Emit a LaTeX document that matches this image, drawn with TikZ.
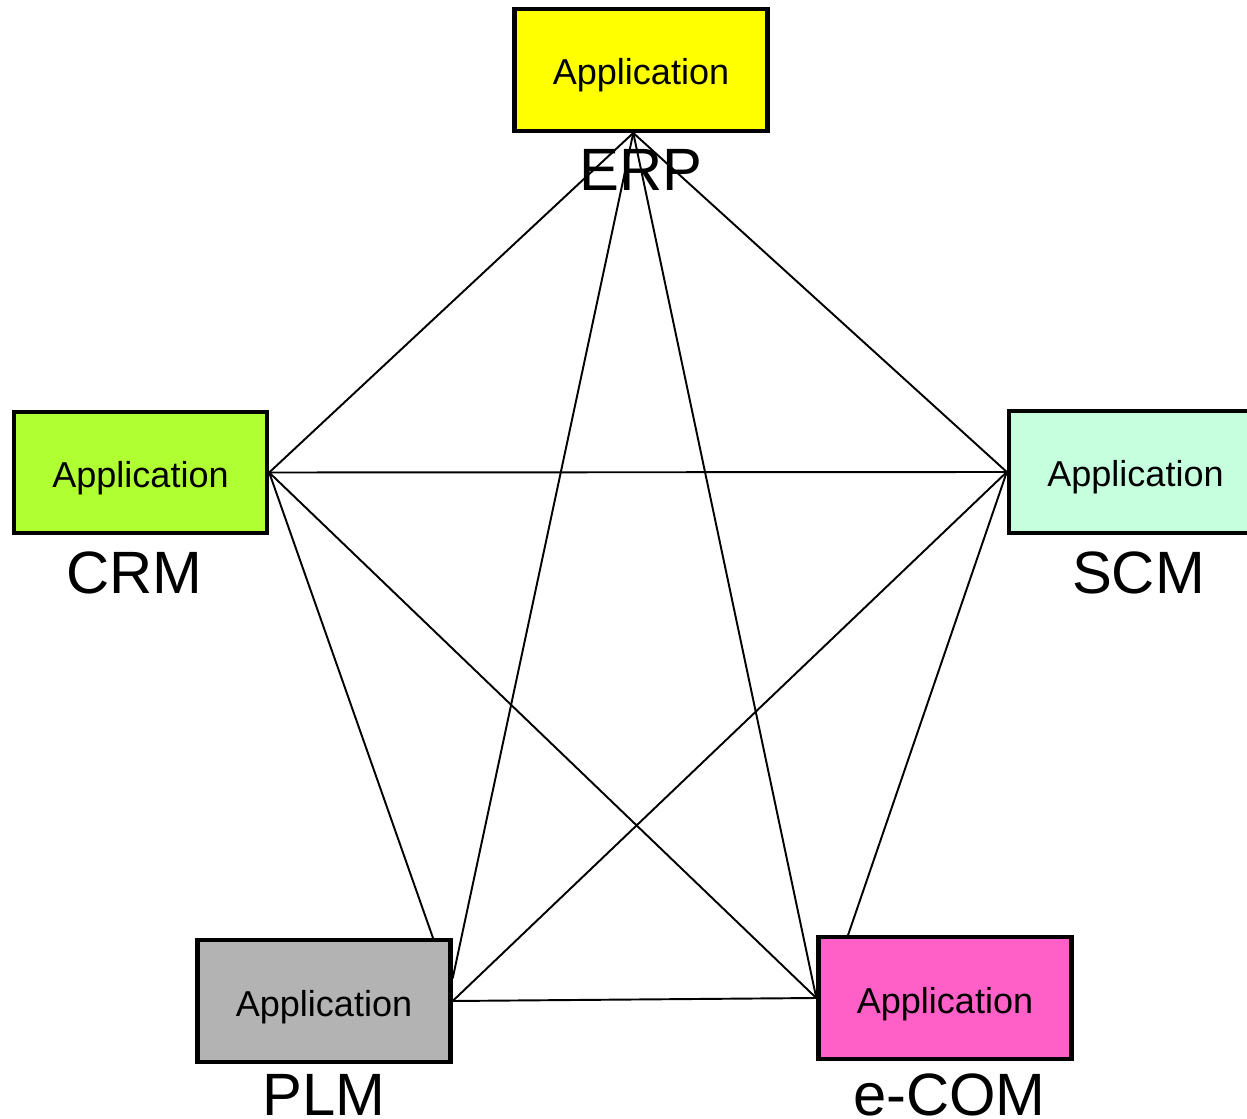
\documentclass[tikz,border=0pt]{standalone}
\usepackage{fontspec}
\setmainfont{Liberation Sans}
\usetikzlibrary{positioning}

\definecolor{erpcol}{RGB}{255,255,0}
\definecolor{crmcol}{RGB}{175,255,50}
\definecolor{scmcol}{RGB}{198,255,222}
\definecolor{plmcol}{RGB}{179,179,179}
\definecolor{ecomcol}{RGB}{255,96,200}

\tikzset{
    app/.style={draw, line width=2.5pt, minimum width=5.06cm, minimum height=2.43cm,
        inner sep=0pt, text height=0.6cm, text depth=0pt, font=\fontsize{20.5}{24}\selectfont},
    tag/.style={inner sep=0pt, font=\fontsize{34}{40}\selectfont},
    link/.style={line width=1.1pt}
}

\begin{document}
\begin{tikzpicture}
            \useasboundingbox (0, 0) rectangle (24.94, -22.38);

            \node[app, fill=erpcol] (erp) at (12.82, -1.40) {Application};
            \node[app, fill=crmcol] (crm) at (2.81, -9.45) {Application};
            \node[app, fill=scmcol] (scm) at (22.71, -9.44) {Application};
            \node[app, fill=plmcol] (plm) at (6.48, -20.02) {Application};
            \node[app, fill=ecomcol] (ecom) at (18.90, -19.96) {Application};

            \node[tag, below=1.16cm of erp.south, anchor=base] (erplabel) {ERP};
            \node[tag, below=1.16cm of crm.south, anchor=base, xshift=-0.12cm] (crmlabel) {CRM};
            \node[tag, below=1.17cm of scm.south, anchor=base, xshift=0.06cm] (scmlabel) {SCM};
            \node[tag, below=1.04cm of plm.south, anchor=base] (plmlabel) {PLM};
            \node[tag, below=1.09cm of ecom.south, anchor=base, xshift=0.09cm] (ecomlabel) {e-COM};

            \draw[link] (erp.263.5) -- (crm.east);
            \draw[link] (erp.263.5) -- (scm.west);
            \draw[link] (erp.263.5) -- (plm.10.5);
            \draw[link] (erp.263.5) -- (ecom.west);

            \draw[link] (crm.east) -- (scm.west);
            \draw[link] (crm.east) -- (plm.30.6);
            \draw[link] (crm.east) -- (ecom.west);

            \draw[link] (scm.west) -- (plm.east);
            \draw[link] (scm.west) -- (ecom.147.4);

            \draw[link] (plm.east) -- (ecom.west);
        \end{tikzpicture}
\end{document}
